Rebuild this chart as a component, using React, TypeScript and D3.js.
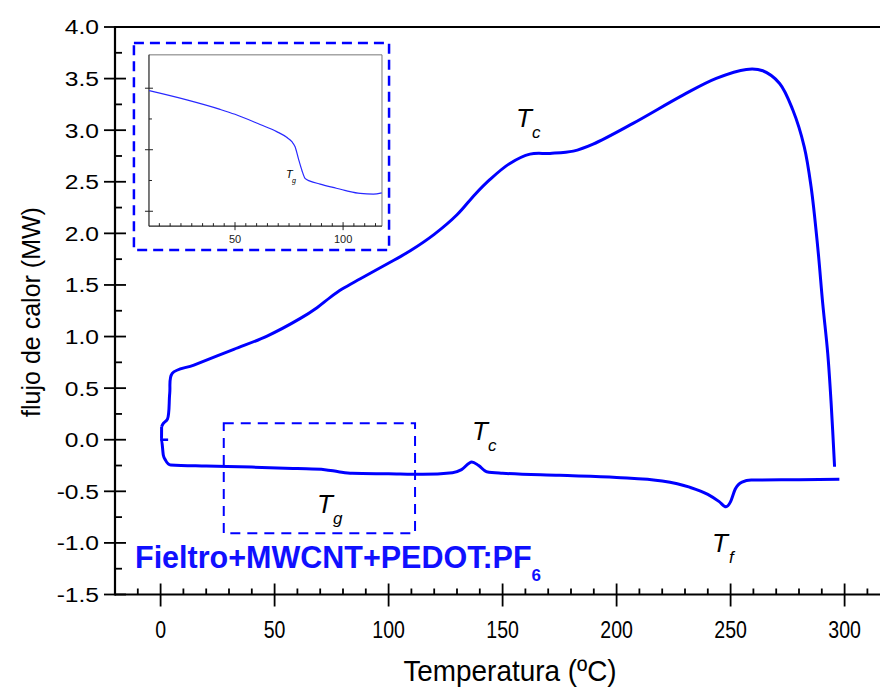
import React from "react";
import * as d3 from "d3";

// ---------- data ----------
const upperX = [0.44, 1.2, 3.0, 4.0, 5.1, 14.6, 32.1, 46.7, 61.3, 68.6, 74.4, 79.6, 87.6, 99.3, 109.5, 120, 130, 138, 144.5, 153.2, 162.0, 170.8, 181.0, 189.7, 207.2, 229.1, 243.7, 256.9, 264.1, 271.5, 277.3, 282.3, 285.3, 288.2, 290.4, 292.6, 294.1, 295.6];
const upperY = [0.126, 0.159, 0.2, 0.45, 0.643, 0.724, 0.876, 1.005, 1.176, 1.28, 1.38, 1.46, 1.56, 1.703, 1.831, 1.99, 2.18, 2.38, 2.523, 2.678, 2.768, 2.775, 2.797, 2.865, 3.066, 3.340, 3.502, 3.589, 3.576, 3.453, 3.195, 2.839, 2.452, 1.870, 1.322, 0.837, 0.353, -0.262];

const lowerX = [0.44, 0.4, 1.2, 2.2, 4.4, 20, 40, 60, 72, 78, 84, 100, 115, 128, 132, 136.5, 139.5, 143, 150, 175, 200, 220, 232, 240, 245, 248, 250, 252, 255, 259, 280, 297.7];
const lowerY = [0.126, 0.0, -0.15, -0.2, -0.245, -0.255, -0.265, -0.28, -0.29, -0.31, -0.325, -0.33, -0.335, -0.32, -0.29, -0.215, -0.25, -0.31, -0.325, -0.345, -0.365, -0.4, -0.46, -0.53, -0.6, -0.65, -0.6, -0.48, -0.41, -0.39, -0.387, -0.384];

const stubX = [0, 3.3];
const stubY = [0, 0];

const insetX = [10.3, 27.7, 43.1, 50.0, 61.6, 69.3, 73.9, 76.3, 77.8, 79.3, 80.9, 82.4, 84.7, 89.4, 95.3, 101.7, 107.9, 114.0, 117.9];
const insetY = [-0.252, -0.2595, -0.2672, -0.2712, -0.2795, -0.2853, -0.2899, -0.2935, -0.2976, -0.307, -0.3165, -0.3233, -0.3255, -0.3279, -0.3306, -0.3334, -0.3355, -0.3361, -0.335];

const xMajor = [0, 50, 100, 150, 200, 250, 300];
const yMajor = [-1.5, -1.0, -0.5, 0.0, 0.5, 1.0, 1.5, 2.0, 2.5, 3.0, 3.5, 4.0];
const insetXMajor = [50, 100];
const insetYMajor = [-0.25, -0.3, -0.35];
const insetYMinor = [-0.275, -0.325];

// annotation boxes in data units [x0, x1, y0, y1]
const zoomBox = [27.7, 111.6, 0.159, -0.907];
const insetOuter = [-11.7, 100.2, 3.845, 1.839];
const insetInner = [-5.1, 97.1, 3.73, 2.07];

const blue = "#0000ff";
const font = "'Liberation Sans', Arial, sans-serif";

export default function App() {
  const x = d3.scaleLinear().domain([-20, 320]).range([115, 890.2]);
  const y = d3.scaleLinear().domain([-1.5, 4.0]).range([594.5, 27]);

  const line = (xs: number[], ys: number[], sx: any, sy: any, curve: any) =>
    d3.line<number>().x((_, i) => sx(xs[i])).y((_, i) => sy(ys[i])).curve(curve)(xs.map((_, i) => i)) || "";

  const xMinor = d3.range(-10, 321, 10).filter((v) => v % 50 !== 0);
  const yMinor = d3.range(-1.25, 4.0, 0.5);

  // inset scales
  const ix0 = x(insetInner[0]), ix1 = x(insetInner[1]);
  const iy0 = y(insetInner[2]), iy1 = y(insetInner[3]);
  const ix = d3.scaleLinear().domain([10.2, 118]).range([ix0, ix1]);
  const iy = d3.scaleLinear().domain([-0.2229, -0.3621]).range([iy0, iy1]);
  const insetXMinor = d3.range(15, 118, 5).filter((v) => v % 50 !== 0);

  return (
    <div style={{ position: "absolute", left: 0, top: 0 }}>
      <svg width={880} height={690} style={{ display: "block", background: "#fff" }} fontFamily={font}>
        {/* frame */}
        <line x1={x(-20)} x2={880} y1={y(4)} y2={y(4)} stroke="#000" strokeWidth={2.2} />
        <line x1={x(-20)} x2={880} y1={y(-1.5)} y2={y(-1.5)} stroke="#000" strokeWidth={2.2} />
        <line x1={x(-20)} x2={x(-20)} y1={y(4) - 1} y2={y(-1.5) + 1} stroke="#000" strokeWidth={2.2} />

        {/* y ticks */}
        {yMajor.map((v) => (
          <g key={"ym" + v}>
            <line x1={x(-20) - 11} x2={x(-20) + 11} y1={y(v)} y2={y(v)} stroke="#000" strokeWidth={1.8} />
            <text transform={`translate(99,${y(v)}) scale(1.2,1)`} dy="0.36em" textAnchor="end" fontSize={20.5}>{v.toFixed(1)}</text>
          </g>
        ))}
        {yMinor.map((v) => (
          <line key={"yn" + v} x1={x(-20)} x2={x(-20) + 7} y1={y(v)} y2={y(v)} stroke="#000" strokeWidth={1.8} />
        ))}
        {/* x ticks */}
        {xMajor.map((v) => (
          <g key={"xm" + v}>
            <line x1={x(v)} x2={x(v)} y1={y(-1.5) - 11} y2={y(-1.5) + 12} stroke="#000" strokeWidth={1.8} />
            <text transform={`translate(${x(v)},638) scale(0.85,1)`} textAnchor="middle" fontSize={23}>{v}</text>
          </g>
        ))}
        {xMinor.map((v) => (
          <line key={"xn" + v} x1={x(v)} x2={x(v)} y1={y(-1.5) - 6} y2={y(-1.5)} stroke="#000" strokeWidth={1.8} />
        ))}

        {/* axis titles */}
        <text transform="translate(510,681) scale(0.93,1)" textAnchor="middle" fontSize={30}>Temperatura (ºC)</text>
        <text transform="translate(40,312) rotate(-90)" textAnchor="middle" fontSize={25}>flujo de calor (MW)</text>

        {/* curves */}
        <path d={line(stubX, stubY, x, y, d3.curveLinear)} fill="none" stroke={blue} strokeWidth={2.5} />
        <path d={line(lowerX, lowerY, x, y, d3.curveMonotoneX)} fill="none" stroke={blue} strokeWidth={3} strokeLinejoin="round" />
        <path d={line(upperX, upperY, x, y, d3.curveCatmullRom.alpha(0.5))} fill="none" stroke={blue} strokeWidth={3} strokeLinejoin="round" />

        {/* zoom box */}
        <rect x={x(zoomBox[0])} y={y(zoomBox[2])} width={x(zoomBox[1]) - x(zoomBox[0])} height={y(zoomBox[3]) - y(zoomBox[2])}
          fill="none" stroke={blue} strokeWidth={2} strokeDasharray="10,7" />

        {/* inset */}
        <rect x={x(insetOuter[0])} y={y(insetOuter[2])} width={x(insetOuter[1]) - x(insetOuter[0])} height={y(insetOuter[3]) - y(insetOuter[2])}
          fill="#fff" stroke={blue} strokeWidth={2.5} strokeDasharray="10,6" />
        <line x1={ix0} x2={ix1} y1={iy0} y2={iy0} stroke="#777" strokeWidth={1} />
        <line x1={ix1} x2={ix1} y1={iy0} y2={iy1} stroke="#777" strokeWidth={1} />
        <line x1={ix0} x2={ix1} y1={iy1} y2={iy1} stroke="#222" strokeWidth={1.2} />
        <line x1={ix0} x2={ix0} y1={iy0} y2={iy1} stroke="#222" strokeWidth={1.2} />
        {insetYMajor.map((v) => (
          <line key={"iym" + v} x1={ix0 - 4} x2={ix0 + 4} y1={iy(v)} y2={iy(v)} stroke="#222" strokeWidth={1} />
        ))}
        {insetYMinor.map((v) => (
          <line key={"iyn" + v} x1={ix0} x2={ix0 + 3} y1={iy(v)} y2={iy(v)} stroke="#222" strokeWidth={1} />
        ))}
        {insetXMajor.map((v) => (
          <g key={"ixm" + v}>
            <line x1={ix(v)} x2={ix(v)} y1={iy1 - 4} y2={iy1 + 4} stroke="#222" strokeWidth={1} />
            <text x={ix(v)} y={iy1 + 17} textAnchor="middle" fontSize={11} fill="#222">{v}</text>
          </g>
        ))}
        {insetXMinor.map((v) => (
          <line key={"ixn" + v} x1={ix(v)} x2={ix(v)} y1={iy1 - 3} y2={iy1} stroke="#222" strokeWidth={1} />
        ))}
        <path d={line(insetX, insetY, ix, iy, d3.curveMonotoneX)} fill="none" stroke="#2828ff" strokeWidth={1.2} />
        <text x={286} y={178} fontSize={11} fontStyle="italic">T</text>
        <text x={292} y={183} fontSize={7} fontStyle="italic">g</text>

        {/* annotations */}
        <text x={516} y={127} fontSize={26} fontStyle="italic">T</text>
        <text x={532} y={138} fontSize={17} fontStyle="italic">c</text>
        <text x={472} y={440} fontSize={26} fontStyle="italic">T</text>
        <text x={488} y={451} fontSize={17} fontStyle="italic">c</text>
        <text x={317} y={513} fontSize={26} fontStyle="italic">T</text>
        <text x={333} y={524} fontSize={17} fontStyle="italic">g</text>
        <text x={712} y={552} fontSize={26} fontStyle="italic">T</text>
        <text x={729} y={563} fontSize={17} fontStyle="italic">f</text>

        <text x={135} y={568} fontSize={30.5} fontWeight="bold" fill="#1010ff">
          Fieltro+MWCNT+PEDOT:PF<tspan dy={13} fontSize={17}>6</tspan>
        </text>
      </svg>
    </div>
  );
}
